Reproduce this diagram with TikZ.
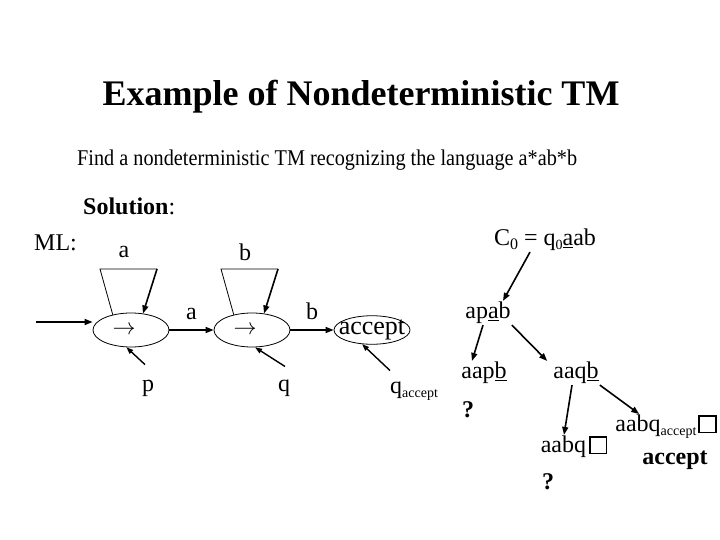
\documentclass[tikz,border=0pt]{standalone}
\usepackage{fontspec}
\setmainfont{Liberation Serif}
\usepackage{graphicx}
\usepackage{tikz}
\usetikzlibrary{shapes.geometric, arrows.meta}
\tikzstyle{arrow} = [line width=1.6pt, -{Triangle[length=8pt,width=6pt]}]
\tikzstyle{pointer} = [line width=1.4pt, -{Triangle[length=7pt,width=5pt]}]
\tikzset{thin line/.style={line width=0.8pt}}
\tikzset{state/.style={draw, ellipse, line width=0.8pt, minimum width=76pt,
    minimum height=34pt, inner sep=0pt, font=\fontsize{24}{28}\selectfont}}
\tikzset{txt/.style={inner sep=1pt, font=\fontsize{24}{28}\selectfont}}
\newcommand{\lowtext}[2][14]{\raisebox{-4pt}{\fontsize{#1}{16}\selectfont #2}}
\newcommand{\blanksq}{{\setlength{\fboxsep}{0pt}\setlength{\fboxrule}{1.6pt}%
    \fbox{\rule{0pt}{15pt}\rule{15pt}{0pt}}}}
\newcommand{\stmark}{\makebox[0pt]{\hspace{-14pt}\resizebox{23pt}{!}{$\rightarrow$}}}

\begin{document}
\begin{tikzpicture}[x=1pt,y=-1pt]
\useasboundingbox (0,0) rectangle (720,540);

\node[font=\bfseries\fontsize{36}{40}\selectfont] (title) at (361,97) {Example of Nondeterministic TM};
\node[txt, font=\fontsize{22.5}{26}\selectfont, anchor=west] (task) at (76,160)
    {\scalebox{0.9}[1]{Find a nondeterministic TM recognizing the language a*ab*b}};
\node[txt, anchor=west] (sol) at (82,206) {\textbf{Solution}:};
\node[txt, anchor=west] (ml) at (33,243) {ML:};

% the machine
\node[state] (sp) at (131,330) {\stmark};
\node[state] (sq) at (252,330) {\stmark};
\node[state, minimum height=28pt, font=\fontsize{26}{30}\selectfont] (sacc) at (372,330) {\makebox[0pt]{accept}};

\coordinate (start) at (36,322);
\draw[arrow] (start) -- (start -| sp.west);

\foreach \s/\l in {sp/a, sq/b} {
  \coordinate (\s tl) at ([shift={(-31,-61)}]\s.center);
  \coordinate (\s tr) at ([shift={(26,-61)}]\s.center);
  \draw[thin line] (\s.140) -- (\s tl) -- (\s tr);
  \draw[arrow] (\s tr) -- (\s.54);
  \node[txt] (\s loop) at ([shift={(-7,-78)}]\s.center) {\l};
}

\draw[arrow] (sp) -- node[txt, above=8pt] (ta) {a} (sq);
\draw[arrow] (sq) -- node[txt, above=8pt] (tb) {b} (sacc);

\node[txt] (lp) at (148,388) {p};
\node[txt] (lq) at (284,388) {q};
\node[txt, anchor=west] (lacc) at (389,391) {q\lowtext{accept}};
\draw[pointer] ([shift={(-3,-14)}]lp.north) -- (sp.255);
\draw[pointer] ([shift={(1,-12)}]lq.north) -- (sq.280);
\draw[pointer] ([shift={(1,-10)}]lacc.north west) -- (sacc.235);

% computation tree
\node[txt] (c0) at (545,240) {C\lowtext[16]{0} = q\lowtext{0}\underline{a}ab};
\node[txt] (c1) at (488,313) {ap\underline{a}b};
\node[txt] (c2) at (484,373) {aap\underline{b}};
\node[txt] (c3) at (576,373) {aaq\underline{b}};
\node[txt] (c4) at (574,447) {aabq\hspace{3pt}\blanksq};
\node[txt] (c5) at (666,427) {aabq\lowtext{accept}\hspace{2pt}\blanksq};
\node[txt] (qm1) at (468,410) {\textbf{?}};
\node[txt] (qm2) at (548,482) {\textbf{?}};
\node[txt] (acc) at (675,460) {\textbf{accept}};

\draw[arrow] ([xshift=-15pt]c0.south) -- ([xshift=15pt]c1.north);
\draw[arrow] ([xshift=-5pt]c1.south) -- ([xshift=-12pt]c2.north);
\draw[arrow] (c1.south east) -- ([xshift=-5pt]c3.north west);
\draw[arrow] ([xshift=-4pt]c3.south) -- ([xshift=-10pt]c4.north);
\draw[arrow] (c3.south east) -- ([xshift=25pt]c5.north west);
\end{tikzpicture}
\end{document}
